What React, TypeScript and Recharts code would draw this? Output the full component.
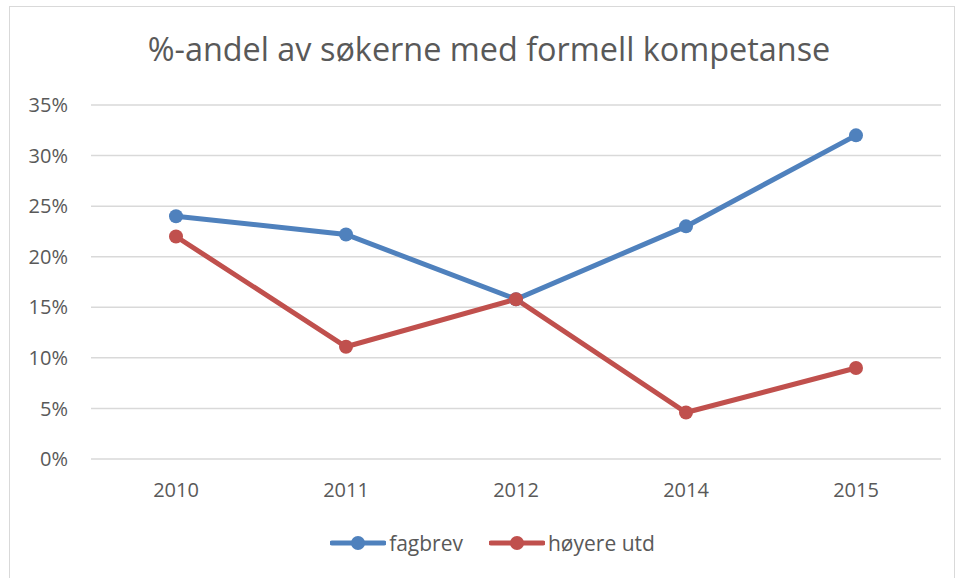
import React from 'react';
import { LineChart, Line, XAxis, YAxis, CartesianGrid, Legend } from 'recharts';

const categories = ['2010', '2011', '2012', '2014', '2015'];
const fagbrev = [0.24, 0.222, 0.158, 0.23, 0.32];
const hoyereUtd = [0.22, 0.111, 0.158, 0.046, 0.09];
const yTicks = [0, 0.05, 0.1, 0.15, 0.2, 0.25, 0.3, 0.35];
const seriesNames = ['fagbrev', 'høyere utd'];

const data = categories.map((c, i) => ({ year: c, fagbrev: fagbrev[i], hoyere: hoyereUtd[i] }));

const FONT = '"Open Sans", sans-serif';
const TEXT = '#595959';

const LegendContent = (props: any) => {
  const payload = props.payload || [];
  return (
    <div style={{ display: 'flex', justifyContent: 'center', fontFamily: FONT, fontSize: 21, color: TEXT, height: 26, alignItems: 'center', paddingLeft: 44 }}>
      {payload.map((p: any, i: number) => (
        <div key={i} style={{ display: 'flex', alignItems: 'center', marginLeft: i ? 26 : 0 }}>
          <svg width={56} height={20}>
            <line x1={2} y1={10} x2={54} y2={10} stroke={p.color} strokeWidth={5} strokeLinecap="round" />
            <circle cx={28} cy={10} r={7} fill={p.color} />
          </svg>
          <span style={{ marginLeft: 3 }}>{p.value}</span>
        </div>
      ))}
    </div>
  );
};

export default function App() {
  return (
    <div style={{ position: 'absolute', left: 0, top: 0, width: 956, height: 578, background: '#fff', overflow: 'hidden' }}>
      <div style={{ position: 'absolute', left: 9, top: 6, width: 944, height: 590, border: '1.5px solid #d9d9d9' }} />
      <div style={{ position: 'absolute', left: 0, width: 978, top: 26, textAlign: 'center', fontFamily: FONT, fontSize: 32.4, color: TEXT }}>
        %-andel av søkerne med formell kompetanse
      </div>
      <div style={{ position: 'absolute', left: 0, top: 0 }}>
        <LineChart width={956} height={578} data={data} margin={{ top: 105, right: 15, bottom: 53, left: 0 }}>
          <CartesianGrid horizontal vertical={false} stroke="#d9d9d9" strokeWidth={1.5} />
          <XAxis dataKey="year" axisLine={false} tickLine={false} height={40} padding={{ left: 85, right: 85 }}
            tick={{ fill: TEXT, fontSize: 20, fontFamily: FONT }} tickMargin={18} />
          <YAxis width={91} domain={[0, 0.35]} ticks={yTicks} axisLine={false} tickLine={false}
            tickFormatter={(v: number) => `${Math.round(v * 100)}%`}
            tick={{ fill: TEXT, fontSize: 20, fontFamily: FONT, dx: -15 }} />
          <Legend verticalAlign="bottom" content={<LegendContent />} wrapperStyle={{ bottom: 22 }} />
          <Line dataKey="fagbrev" name={seriesNames[0]} stroke="#4F81BD" strokeWidth={5} dot={{ r: 7, fill: '#4F81BD', stroke: '#4F81BD', strokeWidth: 0 }} isAnimationActive={false} />
          <Line dataKey="hoyere" name={seriesNames[1]} stroke="#C0504D" strokeWidth={5} dot={{ r: 7, fill: '#C0504D', stroke: '#C0504D', strokeWidth: 0 }} isAnimationActive={false} />
        </LineChart>
      </div>
    </div>
  );
}
